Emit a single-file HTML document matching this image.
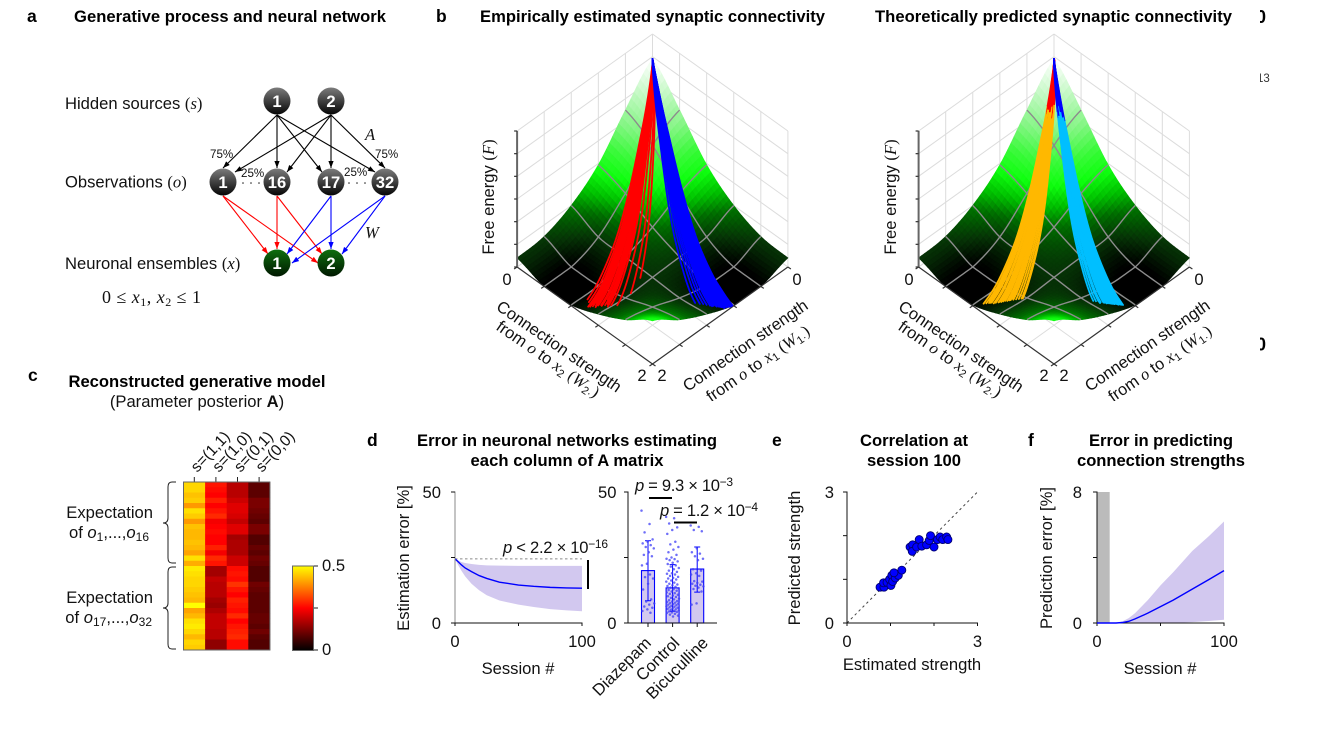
<!DOCTYPE html>
<html lang="en">
<head>
<meta charset="utf-8">
<title>Generative process and synaptic connectivity figure</title>
<style>
html,body{margin:0;padding:0;background:#fff;}
svg{display:block;}
text{font-family:"Liberation Sans",sans-serif;font-size:16.6px;fill:#111;}
.t{font-weight:bold;font-size:16.6px;fill:#000;}
.l{font-weight:bold;font-size:17.5px;fill:#000;}
.m{font-family:"Liberation Serif",serif;font-style:italic;}
.r{font-family:"Liberation Serif",serif;}
.s{font-size:12px;}
.p{font-size:11.6px;}
.c{font-size:16.5px;}
</style>
</head>
<body>
<svg id="fig" xmlns="http://www.w3.org/2000/svg" width="1323" height="740" viewBox="0 0 1323 740">
<defs>
<linearGradient id="gNode" x1="0" y1="0" x2="0" y2="1"><stop offset="0" stop-color="#7c7c7c"/><stop offset="1" stop-color="#050505"/></linearGradient>
<linearGradient id="gGreen" x1="0" y1="0" x2="0" y2="1"><stop offset="0" stop-color="#0f6e0f"/><stop offset="1" stop-color="#001800"/></linearGradient>
<linearGradient id="gBar" x1="0" y1="1" x2="0" y2="0"><stop offset="0" stop-color="#000"/><stop offset="0.5" stop-color="#ff0000"/><stop offset="1" stop-color="#ffff00"/></linearGradient>
<marker id="ak" viewBox="0 0 8 6" refX="8" refY="3" markerWidth="7" markerHeight="5.5" markerUnits="userSpaceOnUse" orient="auto"><path d="M0 0L8 3L0 6Z" fill="#000"/></marker>
<marker id="ar" viewBox="0 0 8 6" refX="8" refY="3" markerWidth="7" markerHeight="5.5" markerUnits="userSpaceOnUse" orient="auto"><path d="M0 0L8 3L0 6Z" fill="#f00"/></marker>
<marker id="ab" viewBox="0 0 8 6" refX="8" refY="3" markerWidth="7" markerHeight="5.5" markerUnits="userSpaceOnUse" orient="auto"><path d="M0 0L8 3L0 6Z" fill="#00f"/></marker>
<clipPath id="cEdge"><rect x="1260" y="0" width="63" height="740"/></clipPath>
<clipPath id="cLow"><rect x="0" y="0" width="1323" height="401"/></clipPath>
</defs>

<!-- panel a -->
<g>
<text class="l" x="27" y="22">a</text>
<text class="t" x="74" y="22" textLength="312" lengthAdjust="spacing">Generative process and neural network</text>
<text x="65" y="109">Hidden sources <tspan class="r">(</tspan><tspan class="m">s</tspan><tspan class="r">)</tspan></text>
<text x="65" y="187.500">Observations <tspan class="r">(</tspan><tspan class="m">o</tspan><tspan class="r">)</tspan></text>
<text x="65" y="269">Neuronal ensembles <tspan class="r">(</tspan><tspan class="m">x</tspan><tspan class="r">)</tspan></text>
<text class="r" x="102" y="303" textLength="99" lengthAdjust="spacing" style="font-size:18px">0 ≤ <tspan class="m">x</tspan><tspan style="font-size:12px" dy="3">1</tspan><tspan dy="-3">, </tspan><tspan class="m">x</tspan><tspan style="font-size:12px" dy="3">2</tspan><tspan dy="-3"> ≤ 1</tspan></text>
<g stroke="#000" stroke-width="1.1" fill="none" marker-end="url(#ak)">
<line x1="277" y1="115" x2="223" y2="168" marker-end="url(#ak)"/>
<line x1="277" y1="115" x2="277" y2="168" marker-end="url(#ak)"/>
<line x1="277" y1="115" x2="322" y2="172" marker-end="url(#ak)"/>
<line x1="277" y1="115" x2="375" y2="172" marker-end="url(#ak)"/>
<line x1="331" y1="115" x2="235" y2="172" marker-end="url(#ak)"/>
<line x1="331" y1="115" x2="287" y2="172" marker-end="url(#ak)"/>
<line x1="331" y1="115" x2="331" y2="168" marker-end="url(#ak)"/>
<line x1="331" y1="115" x2="385" y2="168" marker-end="url(#ak)"/>
</g>
<g stroke="#f00" stroke-width="1.1" fill="none">
<line x1="223" y1="196" x2="268" y2="254" marker-end="url(#ar)"/>
<line x1="223" y1="196" x2="318" y2="263" marker-end="url(#ar)"/>
<line x1="277" y1="196" x2="277" y2="249" marker-end="url(#ar)"/>
<line x1="277" y1="196" x2="322" y2="254" marker-end="url(#ar)"/>
</g>
<g stroke="#00f" stroke-width="1.1" fill="none">
<line x1="331" y1="196" x2="287" y2="254" marker-end="url(#ab)"/>
<line x1="331" y1="196" x2="331" y2="249" marker-end="url(#ab)"/>
<line x1="385" y1="196" x2="292" y2="263" marker-end="url(#ab)"/>
<line x1="385" y1="196" x2="342" y2="254" marker-end="url(#ab)"/>
</g>
<g text-anchor="middle">
<circle cx="277" cy="101" r="13.5" fill="url(#gNode)"/><text x="277" y="107" style="fill:#fff;font-weight:bold">1</text>
<circle cx="331" cy="101" r="13.5" fill="url(#gNode)"/><text x="331" y="107" style="fill:#fff;font-weight:bold">2</text>
<circle cx="223" cy="182" r="13.5" fill="url(#gNode)"/><text x="223" y="188" style="fill:#fff;font-weight:bold">1</text>
<circle cx="277" cy="182" r="13.5" fill="url(#gNode)"/><text x="277" y="188" style="fill:#fff;font-weight:bold">16</text>
<circle cx="331" cy="182" r="13.5" fill="url(#gNode)"/><text x="331" y="188" style="fill:#fff;font-weight:bold">17</text>
<circle cx="385" cy="182" r="13.5" fill="url(#gNode)"/><text x="385" y="188" style="fill:#fff;font-weight:bold">32</text>
<circle cx="277" cy="263" r="13.5" fill="url(#gGreen)"/><text x="277" y="269" style="fill:#fff;font-weight:bold">1</text>
<circle cx="331" cy="263" r="13.5" fill="url(#gGreen)"/><text x="331" y="269" style="fill:#fff;font-weight:bold">2</text>
</g>
<text class="p" x="210" y="158">75%</text>
<text class="p" x="375" y="158">75%</text>
<text class="p" x="241" y="177">25%</text>
<text class="p" x="344" y="176">25%</text>
<text class="m" x="365" y="140">A</text>
<text class="m" x="365" y="238">W</text>
<g fill="#222"><circle cx="243" cy="183" r="0.8"/><circle cx="251" cy="183" r="0.8"/><circle cx="259" cy="183" r="0.8"/><circle cx="349" cy="183" r="0.8"/><circle cx="357" cy="183" r="0.8"/><circle cx="365" cy="183" r="0.8"/></g>
</g>

<!-- panel b -->
<text class="l" x="436" y="22">b</text>
<text class="t" x="652.5" y="22" text-anchor="middle" textLength="345" lengthAdjust="spacing">Empirically estimated synaptic connectivity</text>
<text class="t" x="1053.5" y="22" text-anchor="middle" textLength="357" lengthAdjust="spacing">Theoretically predicted synaptic connectivity</text>
<g id="surfaceLeft"></g>
<g id="surfaceRight"></g>
<g id="surfaceLabels" clip-path="url(#cLow)">
<g>
<text transform="translate(494,197) rotate(-90)" text-anchor="middle">Free energy <tspan class="r">(</tspan><tspan class="m">F</tspan><tspan class="r">)</tspan></text>
<text x="507" y="285" text-anchor="middle">0</text>
<text x="797" y="285" text-anchor="middle">0</text>
<text x="642" y="381" text-anchor="middle">2</text>
<text x="662" y="381" text-anchor="middle">2</text>
<text class="c" transform="translate(556,351) rotate(34.7)" text-anchor="middle">Connection strength</text>
<text class="c" transform="translate(545,363.500) rotate(34.7)" text-anchor="middle">from <tspan class="m">o</tspan> to <tspan class="m">x</tspan><tspan style="font-size:11px" dy="3">2</tspan><tspan dy="-3"> </tspan><tspan class="r">(</tspan><tspan class="m">W</tspan><tspan style="font-size:11px" dy="3">2·</tspan><tspan class="r" dy="-3">)</tspan></text>
<text class="c" transform="translate(748.500,350) rotate(-34.7)" text-anchor="middle">Connection strength</text>
<text class="c" transform="translate(761,368) rotate(-34.7)" text-anchor="middle">from <tspan class="m">o</tspan> to <tspan class="m">x</tspan><tspan style="font-size:11px" dy="3">1</tspan><tspan dy="-3"> </tspan><tspan class="r">(</tspan><tspan class="m">W</tspan><tspan style="font-size:11px" dy="3">1·</tspan><tspan class="r" dy="-3">)</tspan></text>
</g>
<g transform="translate(402,0)">
<text transform="translate(494,197) rotate(-90)" text-anchor="middle">Free energy <tspan class="r">(</tspan><tspan class="m">F</tspan><tspan class="r">)</tspan></text>
<text x="507" y="285" text-anchor="middle">0</text>
<text x="797" y="285" text-anchor="middle">0</text>
<text x="642" y="381" text-anchor="middle">2</text>
<text x="662" y="381" text-anchor="middle">2</text>
<text class="c" transform="translate(556,351) rotate(34.7)" text-anchor="middle">Connection strength</text>
<text class="c" transform="translate(545,363.500) rotate(34.7)" text-anchor="middle">from <tspan class="m">o</tspan> to <tspan class="m">x</tspan><tspan style="font-size:11px" dy="3">2</tspan><tspan dy="-3"> </tspan><tspan class="r">(</tspan><tspan class="m">W</tspan><tspan style="font-size:11px" dy="3">2·</tspan><tspan class="r" dy="-3">)</tspan></text>
<text class="c" transform="translate(748.500,350) rotate(-34.7)" text-anchor="middle">Connection strength</text>
<text class="c" transform="translate(761,368) rotate(-34.7)" text-anchor="middle">from <tspan class="m">o</tspan> to <tspan class="m">x</tspan><tspan style="font-size:11px" dy="3">1</tspan><tspan dy="-3"> </tspan><tspan class="r">(</tspan><tspan class="m">W</tspan><tspan style="font-size:11px" dy="3">1·</tspan><tspan class="r" dy="-3">)</tspan></text>
</g>
</g>

<!-- clipped remnants on right edge -->
<g clip-path="url(#cEdge)">
<text x="1256" y="23" style="font-size:18px;font-weight:bold;fill:#000">0</text>
<text x="1257" y="82" style="font-size:11.500px;fill:#333">13</text>
<text x="1256" y="350.500" style="font-size:18px;font-weight:bold;fill:#000">0</text>
</g>

<!-- panel c -->
<text class="l" x="28" y="381">c</text>
<text class="t" x="197" y="387" text-anchor="middle" textLength="257" lengthAdjust="spacing">Reconstructed generative model</text>
<text x="197" y="407" text-anchor="middle">(Parameter posterior <tspan font-weight="bold">A</tspan>)</text>
<text x="153" y="518" text-anchor="end">Expectation</text>
<text x="149" y="538" text-anchor="end">of <tspan font-style="italic">o</tspan><tspan class="s" dy="3">1</tspan><tspan dy="-3">,...,</tspan><tspan font-style="italic">o</tspan><tspan class="s" dy="3">16</tspan></text>
<text x="153" y="603" text-anchor="end">Expectation</text>
<text x="152" y="623" text-anchor="end">of <tspan font-style="italic">o</tspan><tspan class="s" dy="3">17</tspan><tspan dy="-3">,...,</tspan><tspan font-style="italic">o</tspan><tspan class="s" dy="3">32</tspan></text>
<path d="M176 482 H172 Q168 482 168 487 V518 Q168 523 163 523 Q168 523 168 528 V558 Q168 563 172 563 H176" fill="none" stroke="#222" stroke-width="1"/>
<path d="M176 567 H172 Q168 567 168 572 V603 Q168 608 163 608 Q168 608 168 613 V644 Q168 649 172 649 H176" fill="none" stroke="#222" stroke-width="1"/>
<g id="heatmap"></g>
<rect x="292.5" y="566" width="21" height="84.500" fill="url(#gBar)" stroke="#666" stroke-width="1"/>
<g stroke="#222" stroke-width="1"><line x1="314" y1="566" x2="318" y2="566"/><line x1="314" y1="608" x2="318" y2="608"/><line x1="314" y1="650" x2="318" y2="650"/></g>
<text x="322" y="571">0.5</text>
<text x="322" y="655">0</text>

<!-- panel d -->
<text class="l" x="367" y="446">d</text>
<text class="t" x="567" y="446" text-anchor="middle" textLength="300" lengthAdjust="spacing">Error in neuronal networks estimating</text>
<text class="t" x="567" y="466" text-anchor="middle" textLength="193" lengthAdjust="spacing">each column of A matrix</text>
<g id="lineD"></g>
<g id="barD"></g>
<text transform="translate(409,558) rotate(-90)" text-anchor="middle">Estimation error [%]</text>
<text x="518" y="674" text-anchor="middle">Session #</text>
<text x="503" y="553" textLength="105" lengthAdjust="spacing"><tspan font-style="italic">p</tspan> &lt; 2.2 × 10<tspan class="s" dy="-5">−16</tspan></text>
<line x1="588" y1="560" x2="588" y2="589" stroke="#000" stroke-width="2"/>
<text x="635" y="491" textLength="98" lengthAdjust="spacing"><tspan font-style="italic">p</tspan> = 9.3 × 10<tspan class="s" dy="-5">−3</tspan></text>
<line x1="649" y1="498" x2="672" y2="498" stroke="#000" stroke-width="2"/>
<text x="660" y="516" textLength="98" lengthAdjust="spacing"><tspan font-style="italic">p</tspan> = 1.2 × 10<tspan class="s" dy="-5">−4</tspan></text>
<line x1="674" y1="522.500" x2="697" y2="522.500" stroke="#000" stroke-width="2"/>

<!-- panel e -->
<text class="l" x="772" y="446">e</text>
<text class="t" x="914" y="446" text-anchor="middle" textLength="108" lengthAdjust="spacing">Correlation at</text>
<text class="t" x="914" y="466" text-anchor="middle" textLength="94" lengthAdjust="spacing">session 100</text>
<g id="scatterE"></g>
<text transform="translate(800,558) rotate(-90)" text-anchor="middle">Predicted strength</text>
<text x="912" y="670" text-anchor="middle">Estimated strength</text>

<!-- panel f -->
<text class="l" x="1028" y="446">f</text>
<text class="t" x="1161" y="446" text-anchor="middle" textLength="144" lengthAdjust="spacing">Error in predicting</text>
<text class="t" x="1161" y="466" text-anchor="middle" textLength="168" lengthAdjust="spacing">connection strengths</text>
<g id="lineF"></g>
<text transform="translate(1052,558) rotate(-90)" text-anchor="middle">Prediction error [%]</text>
<text x="1160" y="674" text-anchor="middle">Session #</text>
</svg>

<script>
// ---------- surface data (free energy on a W1 x W2 grid) ----------
const gridW = [0, 0.4, 0.8, 1.2, 1.6, 2];
const surfaceF = [
  [4.9, 3.5, 1.94, 1.0, 0.49, 0.4],
  [3.5, 2.8, 1.54, 0.47, 0, 0],
  [1.94, 1.54, 0.9, 0.44, 0.05, 0.04],
  [1.0, 0.47, 0.44, 0.4, 0.35, 0.49],
  [0.49, 0, 0.05, 0.35, 0.8, 1.1],
  [0.4, 0, 0.04, 0.49, 1.1, 1.9]
];
const colorF = [0, 0.4, 0.9, 1.3, 1.8, 2.4, 3.2, 4.2, 4.9];
const colorR = [0, 6, 0, 0, 15, 60, 140, 210, 255];
const colorG = [0, 50, 110, 190, 255, 250, 245, 250, 255];
const colorB = [0, 6, 0, 0, 15, 60, 140, 210, 255];
// trajectory end points: synaptic strengths at the last session
const empiricalRedW1 = [1.83,1.93,1.92,1.9,1.9,1.88,1.87,1.86,1.85,1.85,1.84,1.83,1.82,1.8,1.79,1.78,1.86,1.83,1.81,1.76,1.51,1.29,1.9,1.87,1.84,1.72];
const empiricalRedW2 = [0.87,0.98,1.0,1.02,0.97,1.04,1.0,1.06,1.05,1.1,1.08,1.17,1.12,1.14,1.18,1.12,0.92,1.0,1.08,1.24,1.19,1.11,1.06,0.98,1.03,1.06];
const empiricalBlueW1 = [1.13,1.1,1.07,1.05,1.03,1.02,1.0,0.98,0.98,0.96,0.95,0.94,0.93,0.92,0.9,0.89,0.88,0.86,0.85,0.84,0.83,0.82,0.82,0.95,0.92,0.9,0.87,1.0,0.97,0.93];
const empiricalBlueW2 = [1.76,1.8,1.82,1.85,1.88,1.9,1.9,1.91,1.93,1.94,1.95,1.96,1.97,1.98,1.98,1.99,1.99,2.0,2.0,2.0,2.0,2.0,1.97,1.9,1.95,1.94,1.98,1.84,1.88,1.99];
const predictedRedW1 = [1.92,1.9,1.88,1.86,1.86,1.84,1.82,1.81,1.8,1.78,1.76,1.75,1.73,1.72,1.7,1.68,1.66,1.64,1.63,1.85,1.79,1.74,1.69,1.87,1.71,1.77];
const predictedRedW2 = [0.88,0.9,0.92,0.94,0.97,0.98,1.0,1.0,1.02,1.03,1.04,1.06,1.07,1.08,1.1,1.12,1.14,1.16,1.17,0.9,1.0,1.02,1.08,0.93,1.05,1.0];
const predictedBlueW1 = [1.13,1.11,1.09,1.08,1.06,1.05,1.04,1.03,1.02,1.01,1.0,0.99,0.98,0.97,0.96,0.95,0.94,0.93,0.92,0.91,1.1,1.04,0.98,0.95,1.0,0.93];
const predictedBlueW2 = [1.71,1.73,1.75,1.77,1.79,1.8,1.81,1.82,1.83,1.84,1.85,1.86,1.87,1.87,1.88,1.89,1.9,1.91,1.92,1.93,1.78,1.82,1.86,1.9,1.84,1.88];
const predictionOnset = [0.19, 0.21, 0.18, 0.22, 0.2, 0.17, 0.23, 0.2];

// ---------- heatmap data ----------
const heatStates = ['s=(1,1)', 's=(1,0)', 's=(0,1)', 's=(0,0)'];
const heatColumn1 = [.46,.46,.44,.45,.40,.47,.45,.40,.44,.43,.43,.44,.43,.41,.47,.42,.48,.47,.46,.46,.45,.44,.43,.50,.41,.43,.47,.48,.46,.43,.46,.45];
const heatColumn2 = [.27,.26,.25,.28,.25,.27,.29,.24,.25,.26,.25,.25,.28,.24,.29,.27,.16,.16,.19,.18,.18,.18,.16,.15,.17,.19,.19,.19,.18,.18,.14,.14];
const heatColumn3 = [.18,.18,.18,.20,.22,.22,.21,.19,.22,.22,.16,.17,.17,.17,.20,.20,.26,.27,.26,.30,.27,.25,.28,.27,.26,.29,.25,.27,.28,.29,.26,.26];
const heatColumn4 = [.09,.09,.09,.12,.12,.11,.10,.09,.12,.12,.08,.08,.10,.09,.11,.10,.08,.08,.08,.11,.10,.09,.09,.09,.09,.10,.10,.09,.11,.09,.08,.08];

// ---------- panel d data ----------
const dSessions = [0,2,5,8,13,19,25,35,50,62,75,88,100];
const dMean = [24.5,23.6,22.2,21,19.6,18.1,17,15.6,14.5,14,13.6,13.4,13.3];
const dUpper = [24.5,24,23.3,22.9,22.5,22.2,22,21.9,21.8,21.8,21.8,21.8,21.8];
const dLower = [24.5,22.5,20,17.8,15,12.5,10.6,8.6,7,6.1,5.3,4.8,4.5];
const dBaseline = 24.5;
const dTicksY = [0,25,50];
const dLabelsY = ['0','','50'];
const dTicksX = [0,50,100];
const dLabelsX = ['0','','100'];
const barNames = ['Diazepam','Control','Bicuculline'];
const barMeans = [20,13.4,20.6];
const barHigh = [31.4,22.3,29];
const barLow = [8.5,4.5,11.8];
const diazepamDots = [42.9,37.8,34.6,31.9,31,30.4,29.7,29,28.5,27,26,25.5,22.6,22,18.5,17.5,17,15,12.8,9,8.2,7.5,7,6.3,5.8,5.2,4.6,3.9];
const controlDots = [40.5,40,38,36.5,35.5,34,31,30,29,28,27,26,25,24.5,24.4,24,23.5,23,22.5,22,21.5,21,20.5,20,19.5,19,18.8,18.5,18,17.6,17.2,17,16.6,16.2,15.8,15.4,15,14.7,14.4,14.1,13.8,13.5,13.2,12.9,12.6,12.3,12,11.7,11.4,11.1,10.8,10.5,10.2,9.9,9.6,9.3,9,8.7,8.4,8.2,8,7.8,7.6,7.4,7.2,7,6.8,6.6,6.4,6.2,6,5.8,5.6,5.4,5.2,5,4.8,4.6,4.4,4.2,4,3.8,3.5,3.2,2.8,2.5];
const bicucullineDots = [37.2,36.7,35.5,35,28.5,27,26.5,25.5,24.5,24,20.5,20,19,18.5,18,16,15.8,15.3,15,14.6,14.2,14,13.5,13,12,7.5,7];

// ---------- panel e data ----------
const estimatedStrength = [.76,.85,.84,.92,1.01,.98,1.03,1.05,1.11,1.18,1.26,1.08,1.45,1.51,1.5,1.6,1.66,1.72,1.83,1.89,1.92,2.0,2.08,2.14,2.2,2.29,2.32];
const predictedStrength = [.82,.82,.92,.93,.86,1.0,1.09,.95,1.03,1.09,1.21,1.15,1.74,1.79,1.64,1.74,1.91,1.76,1.79,1.89,2.0,1.74,1.91,1.97,1.91,1.97,1.91];
const eTicks = [0,1,2,3];
const eLabels = ['0','','','3'];

// ---------- panel f data ----------
const fSessions = [0,10,15,20,25,30,40,50,60,75,88,100];
const fMean = [0,0,0,.03,.1,.25,.6,1.0,1.4,2.07,2.65,3.2];
const fUpper = [0,0,0,.1,.3,.6,1.4,2.3,3.1,4.4,5.3,6.2];
const fLower = [0,0,0,0,0,0,0,0,0,.05,.12,.2];
const fTicksY = [0,4,8];
const fLabelsY = ['0','','8'];
const fTicksX = [0,50,100];
const fLabelsX = ['0','','100'];
const fBlankEnd = 10;

const NS = 'http://www.w3.org/2000/svg';
function mk(parent, tag, attrs, txt) {
  const el = document.createElementNS(NS, tag);
  for (const k in attrs) el.setAttribute(k, attrs[k]);
  if (txt !== undefined) el.textContent = txt;
  parent.appendChild(el);
  return el;
}
function pathFrom(xs, ys) {
  return xs.map((x, i) => (i ? 'L' : 'M') + x.toFixed(2) + ' ' + ys[i].toFixed(2)).join('');
}
function lerpTable(keys, vals, v) {
  if (v <= keys[0]) return vals[0];
  for (let i = 1; i < keys.length; i++) {
    if (v <= keys[i]) {
      const t = (v - keys[i - 1]) / (keys[i] - keys[i - 1]);
      return vals[i - 1] + t * (vals[i] - vals[i - 1]);
    }
  }
  return vals[vals.length - 1];
}
function cr(p0, p1, p2, p3, t) {
  return 0.5 * (2 * p1 + (p2 - p0) * t + (2 * p0 - 5 * p1 + 4 * p2 - p3) * t * t + (3 * p1 - p0 - 3 * p2 + p3) * t * t * t);
}
function surfaceAt(w1, w2) {
  const step = gridW[1] - gridW[0];
  const last = gridW.length - 1;
  const u = Math.min(last - 1e-6, Math.max(0, w1 / step));
  const v = Math.min(last - 1e-6, Math.max(0, w2 / step));
  const iu = Math.floor(u), iv = Math.floor(v);
  const cl = i => Math.max(0, Math.min(last, i));
  const rows = [];
  for (let a = -1; a <= 2; a++) {
    const row = surfaceF[cl(iu + a)];
    rows.push(cr(row[cl(iv - 1)], row[iv], row[cl(iv + 1)], row[cl(iv + 2)], v - iv));
  }
  return Math.max(0, cr(rows[0], rows[1], rows[2], rows[3], u - iu));
}

function drawSurface(root, dx, traces) {
  const cx = 652.5 + dx;
  const floorY = 170, wx = 67.7, wy = 48.5, fz = 22.67, wallH = 136;
  const X = (w1, w2) => cx + (w2 - w1) * wx;
  const Yf = (w1, w2) => floorY + (w1 + w2) * wy;
  const Y = (w1, w2) => Yf(w1, w2) - surfaceAt(w1, w2) * fz;
  const xMin = X(2, 0), xMax = X(0, 2);
  const wallTicks = [0, 0.4, 0.8, 1.2, 1.6, 2];
  const zTicks = [0, 1, 2, 3, 4, 5, 6];

  const walls = mk(root, 'g', { stroke: '#dcdcdc', 'stroke-width': 1, fill: 'none' });
  
  
  wallTicks.forEach(w => {
    mk(walls, 'line', { x1: X(w, 0), y1: Yf(w, 0), x2: X(w, 0), y2: Yf(w, 0) - wallH });
    mk(walls, 'line', { x1: X(0, w), y1: Yf(0, w), x2: X(0, w), y2: Yf(0, w) - wallH });
    mk(walls, 'line', { x1: X(w, 0), y1: Yf(w, 0), x2: X(w, 2), y2: Yf(w, 2) });
    mk(walls, 'line', { x1: X(0, w), y1: Yf(0, w), x2: X(2, w), y2: Yf(2, w) });
  });
  zTicks.forEach(z => {
    const dz = z * wallH / 6;
    mk(walls, 'line', { x1: X(2, 0), y1: Yf(2, 0) - dz, x2: X(0, 0), y2: Yf(0, 0) - dz });
    mk(walls, 'line', { x1: X(0, 0), y1: Yf(0, 0) - dz, x2: X(0, 2), y2: Yf(0, 2) - dz });
  });

  const mesh = mk(root, 'g', {});
  
  
  const N = 44, h = 2 / N;
  const cells = [];
  for (let i = 0; i < N; i++) for (let j = 0; j < N; j++) cells.push([i, j]);
  cells.sort((a, b) => (a[0] + a[1]) - (b[0] + b[1]));
  cells.forEach(c => {
    const a = c[0] * h, b = c[1] * h;
    const f = surfaceAt(a + h / 2, b + h / 2);
    const col = 'rgb(' + Math.round(lerpTable(colorF, colorR, f)) + ',' + Math.round(lerpTable(colorF, colorG, f)) + ',' + Math.round(lerpTable(colorF, colorB, f)) + ')';
    const pts = [[a, b], [a + h, b], [a + h, b + h], [a, b + h]].map(p => X(p[0], p[1]).toFixed(2) + ',' + Y(p[0], p[1]).toFixed(2)).join(' ');
    const cell = mk(mesh, 'polygon', { points: pts, fill: col, stroke: col, 'stroke-width': 0.7 });
    
    
  });

  const contour = mk(root, 'g', { fill: 'none', stroke: '#8c8c8c', 'stroke-width': 1.4 });
  
  
  [0.4, 0.8, 1.2, 1.6].forEach(w => {
    const xa = [], ya = [], xb = [], yb = [];
    for (let k = 0; k <= 40; k++) {
      const t = k / 40 * 2;
      xa.push(X(w, t)); ya.push(Y(w, t));
      xb.push(X(t, w)); yb.push(Y(t, w));
    }
    mk(contour, 'path', { d: pathFrom(xa, ya) });
    mk(contour, 'path', { d: pathFrom(xb, yb) });
  });

  const axes = mk(root, 'g', { stroke: '#333', 'stroke-width': 1.2, fill: 'none' });
  
  
  mk(axes, 'line', { x1: xMin, y1: Yf(2, 0), x2: X(2, 2), y2: Yf(2, 2) });
  mk(axes, 'line', { x1: X(2, 2), y1: Yf(2, 2), x2: xMax, y2: Yf(0, 2) });
  mk(axes, 'line', { x1: xMin, y1: Yf(2, 0), x2: xMin, y2: Yf(2, 0) - wallH, stroke: '#666', 'stroke-width': 2 });
  zTicks.forEach(z => {
    const yy = Yf(2, 0) - z * wallH / 6;
    mk(axes, 'line', { x1: xMin - 3, y1: yy, x2: xMin, y2: yy });
  });
  wallTicks.forEach(w => {
    mk(axes, 'line', { x1: X(2, w), y1: Yf(2, w), x2: X(2, w) - 3, y2: Yf(2, w) + 2 });
    mk(axes, 'line', { x1: X(w, 2), y1: Yf(w, 2), x2: X(w, 2) + 3, y2: Yf(w, 2) + 2 });
  });

  traces.forEach(tr => {
    const grp = mk(root, 'g', { fill: 'none', 'stroke-width': 1.8, 'stroke-linecap': 'round', 'stroke-linejoin': 'round' });
    
    
    const at1 = (e, s) => e * Math.pow(s, tr.bend1);
    const at2 = (e, s) => e * Math.pow(s, tr.bend2);
    tr.w1.forEach((w1End, i) => {
      const w2End = tr.w2[i];
      const onset = tr.onset ? tr.onset[i % tr.onset.length] : 1;
      if (tr.late) {
        const xs = [], ys = [];
        for (let k = 0; k <= 30; k++) {
          const s = onset + (1 - onset) * k / 30;
          xs.push(X(at1(w1End, s), at2(w2End, s))); ys.push(Y(at1(w1End, s), at2(w2End, s)));
        }
        const p = mk(grp, 'path', { d: pathFrom(xs, ys), stroke: tr.late });
        
        
      }
      const xs = [], ys = [];
      for (let k = 0; k <= 30; k++) {
        const s = onset * k / 30;
        xs.push(X(at1(w1End, s), at2(w2End, s))); ys.push(Y(at1(w1End, s), at2(w2End, s)));
      }
      const p = mk(grp, 'path', { d: pathFrom(xs, ys), stroke: tr.color });
      
      
    });
  });
}

drawSurface(document.getElementById('surfaceLeft'), 0, [
  { name: 'trajectories-x2', w1: empiricalRedW1, w2: empiricalRedW2, color: '#ff0000', bend1: 1.2, bend2: 1 },
  { name: 'trajectories-x1', w1: empiricalBlueW1, w2: empiricalBlueW2, color: '#0000ff', bend1: 1, bend2: 1.12 }
]);
drawSurface(document.getElementById('surfaceRight'), 401.5, [
  { name: 'predicted-trajectories-x2', w1: predictedRedW1, w2: predictedRedW2, color: '#ff0000', late: '#ffb800', onset: predictionOnset, bend1: 1.2, bend2: 1 },
  { name: 'predicted-trajectories-x1', w1: predictedBlueW1, w2: predictedBlueW2, color: '#0000ff', late: '#00bfff', onset: predictionOnset, bend1: 1, bend2: 1.12 }
]);

// ---------- heatmap ----------
(function () {
  const root = document.getElementById('heatmap');
  const columns = [heatColumn1, heatColumn2, heatColumn3, heatColumn4];
  const left = 183.5, top = 482, cw = 21.6, rh = 5.25;
  function hot(v) {
    const r = Math.min(1, v / 0.25), g = Math.max(0, Math.min(1, (v - 0.25) / 0.25));
    return 'rgb(' + Math.round(r * 255) + ',' + Math.round(g * 255) + ',0)';
  }
  columns.forEach((col, c) => {
    col.forEach((v, r) => {
      const cell = mk(root, 'rect', { x: left + c * cw, y: top + r * rh, width: cw + 0.3, height: rh + 0.3, fill: hot(v) });
      
      
    });
    const xc = left + (c + 0.5) * cw;
    const tick = mk(root, 'line', { x1: xc, y1: top - 5, x2: xc, y2: top, stroke: '#222', 'stroke-width': 1 });
    
    
    const lab = mk(root, 'text', { transform: 'translate(' + (xc + 3) + ',' + (top - 9) + ') rotate(-47)', style: 'font-size:15.6px' }, heatStates[c]);
    
    
  });
  const border = mk(root, 'rect', { x: left, y: top, width: cw * 4, height: rh * 32, fill: 'none', stroke: '#666', 'stroke-width': 1 });
  
  
})();

function axisY(root, x, yFn, ticks, labels, color, name, gap) {
  const g = mk(root, 'g', { stroke: color, 'stroke-width': 1, fill: 'none' });
  
  
  mk(g, 'line', { x1: x, y1: yFn(ticks[0]) + 0.5, x2: x, y2: yFn(ticks[ticks.length - 1]) - 0.5 });
  ticks.forEach((t, i) => {
    mk(g, 'line', { x1: x - 4, y1: yFn(t), x2: x, y2: yFn(t), stroke: '#111' });
    if (labels[i]) {
      const lb = mk(root, 'text', { x: x - gap, y: yFn(t) + 6, 'text-anchor': 'end' }, labels[i]);
      
      
    }
  });
}
function axisX(root, y, xFn, ticks, labels, name) {
  const g = mk(root, 'g', { stroke: '#111', 'stroke-width': 1, fill: 'none' });
  
  
  mk(g, 'line', { x1: xFn(ticks[0]) - 0.5, y1: y, x2: xFn(ticks[ticks.length - 1]) + 0.5, y2: y });
  ticks.forEach((t, i) => {
    mk(g, 'line', { x1: xFn(t), y1: y, x2: xFn(t), y2: y + 3 });
    if (labels[i]) {
      const lb = mk(root, 'text', { x: xFn(t), y: y + 24, 'text-anchor': 'middle' }, labels[i]);
      
      
    }
  });
}

// ---------- panel d line chart ----------
(function () {
  const root = document.getElementById('lineD');
  const x = v => 455 + v * 1.27;
  const y = v => 623 - v * 2.62;
  const band = mk(root, 'path', { d: pathFrom(dSessions.map(x).concat(dSessions.slice().reverse().map(x)), dUpper.map(y).concat(dLower.slice().reverse().map(y))) + 'Z', fill: '#d2c8ef' });
  
  
  const base = mk(root, 'line', { x1: x(0), y1: y(dBaseline), x2: x(100), y2: y(dBaseline), stroke: '#aaa', 'stroke-width': 1.3, 'stroke-dasharray': '2.5 2.5' });
  
  
  const mean = mk(root, 'path', { d: pathFrom(dSessions.map(x), dMean.map(y)), fill: 'none', stroke: '#0000ff', 'stroke-width': 1.4 });
  
  
  axisY(root, x(0), y, dTicksY, dLabelsY, '#888', 'y-axis', 14);
  axisX(root, y(0), x, dTicksX, dLabelsX, 'x-axis');
})();

// ---------- panel d bar chart ----------
(function () {
  const root = document.getElementById('barD');
  const y = v => 623 - v * 2.62;
  const xBar = i => 648 + i * 24.6;
  const xLabelEnd = i => 652 + i * 28.5;
  const dotSets = [diazepamDots, controlDots, bicucullineDots];
  barNames.forEach((nm, i) => {
    const xc = xBar(i);
    const bar = mk(root, 'rect', { x: xc - 6.5, y: y(barMeans[i]), width: 13, height: y(0) - y(barMeans[i]), fill: '#d2c8ef', stroke: '#0000ff', 'stroke-width': 1.1 });
    
    
    const err = mk(root, 'path', { d: 'M' + (xc - 3) + ' ' + y(barHigh[i]) + 'H' + (xc + 3) + 'M' + xc + ' ' + y(barHigh[i]) + 'V' + y(barLow[i]) + 'M' + (xc - 3) + ' ' + y(barLow[i]) + 'H' + (xc + 3), fill: 'none', stroke: '#0000ff', 'stroke-width': 1 });
    
    
    dotSets[i].forEach((v, k) => {
      const frac = (k * 0.618034) % 1;
      const dot = mk(root, 'circle', { cx: xc + (frac - 0.5) * 13, cy: y(v), r: 1.25, fill: '#3f3ff5', 'fill-opacity': 0.75 });
      
      
    });
    const tick = mk(root, 'line', { x1: xc, y1: y(0), x2: xc, y2: y(0) + 4, stroke: '#111' });
    
    
    const lab = mk(root, 'text', { transform: 'translate(' + xLabelEnd(i) + ',' + (y(0) + 21) + ') rotate(-45)', 'text-anchor': 'end' }, nm);
    
    
  });
  axisY(root, 628, y, dTicksY, dLabelsY, '#111', 'bar-y-axis', 11.5);
  const base = mk(root, 'line', { x1: 627.5, y1: y(0), x2: 717, y2: y(0), stroke: '#111' });
  
  
})();

// ---------- panel e scatter ----------
(function () {
  const root = document.getElementById('scatterE');
  const x = v => 847 + v * 43.5;
  const y = v => 623 - v * 43.67;
  const diag = mk(root, 'line', { x1: x(0), y1: y(0), x2: x(3), y2: y(3), stroke: '#444', 'stroke-width': 1, 'stroke-dasharray': '2.5 3' });
  
  
  axisY(root, x(0), y, eTicks, eLabels, '#111', 'y-axis', 13);
  axisX(root, y(0), x, eTicks, eLabels, 'x-axis');
  estimatedStrength.forEach((v, i) => {
    const pt = mk(root, 'circle', { cx: x(v), cy: y(predictedStrength[i]), r: 4, fill: '#0000ff', stroke: '#000070', 'stroke-width': 0.9 });
    
    
  });
})();

// ---------- panel f ----------
(function () {
  const root = document.getElementById('lineF');
  const x = v => 1097 + v * 1.27;
  const y = v => 623 - v * 16.375;
  const blank = mk(root, 'rect', { x: x(0), y: y(8), width: x(fBlankEnd) - x(0), height: y(0) - y(8), fill: '#bbbbbb' });
  
  
  const band = mk(root, 'path', { d: pathFrom(fSessions.map(x).concat(fSessions.slice().reverse().map(x)), fUpper.map(y).concat(fLower.slice().reverse().map(y))) + 'Z', fill: '#d2c8ef' });
  
  
  axisY(root, x(0), y, fTicksY, fLabelsY, '#111', 'y-axis', 15);
  axisX(root, y(0), x, fTicksX, fLabelsX, 'x-axis');
  const mean = mk(root, 'path', { d: pathFrom(fSessions.map(x), fMean.map(y)), fill: 'none', stroke: '#0000ff', 'stroke-width': 1.4 });
  
  
})();
</script>
</body>
</html>
